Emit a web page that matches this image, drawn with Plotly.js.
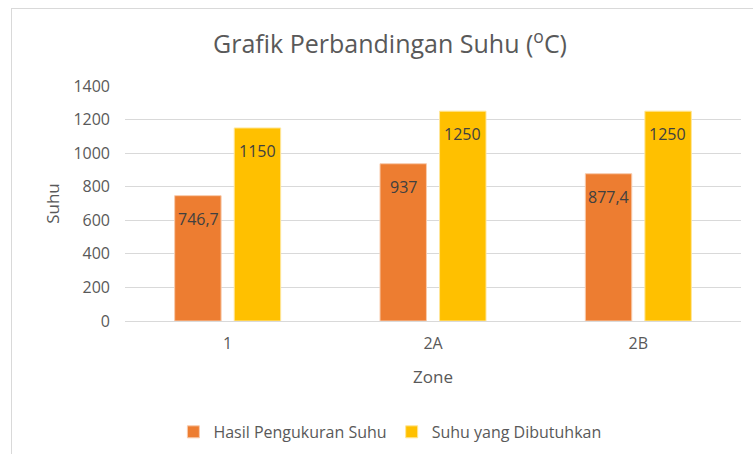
<!DOCTYPE html>
<html>
<head>
<meta charset="utf-8">
<script src="https://cdn.plot.ly/plotly-3.0.1.min.js"></script>
<style>
  html, body { margin: 0; padding: 0; background: #fff; overflow: hidden; }
  #chart { width: 753px; height: 454px; }
  #frame { position: absolute; left: 11px; top: 8px; width: 800px; height: 500px;
           border: 1px solid #d9d9d9; pointer-events: none; }
</style>
</head>
<body>
<div id="chart"></div>
<div id="frame"></div>
<script>
const categories = ['1', '2A', '2B'];
const hasilPengukuran = [746.7, 937, 877.4];
const suhuDibutuhkan = [1150, 1250, 1250];
const seriesNames = ['Hasil Pengukuran Suhu', 'Suhu yang Dibutuhkan'];
const yTicks = [0, 200, 400, 600, 800, 1000, 1200, 1400];

const fmt = v => String(v).replace('.', ',');
const font = '"Open Sans", "Liberation Sans", sans-serif';
const grey = '#595959';

const traces = [
  { type: 'bar', name: seriesNames[0], x: categories, y: hasilPengukuran,
    marker: { color: '#ED7D31', line: { color: '#F8CBAD', width: 1 } }, hoverinfo: 'none' },
  { type: 'bar', name: seriesNames[1], x: categories, y: suhuDibutuhkan,
    marker: { color: '#FFC000', line: { color: '#FFE699', width: 1 } }, hoverinfo: 'none' }
];

const annotations = [];
[hasilPengukuran, suhuDibutuhkan].forEach((vals, si) => {
  vals.forEach((v, i) => {
    annotations.push({
      x: i, y: v, xref: 'x', yref: 'y', text: fmt(v), showarrow: false,
      xshift: si === 0 ? -29.5 : 29.5, yshift: -23, yanchor: 'middle',
      font: { family: font, size: 16, color: '#404040' }
    });
  });
});

const layout = {
  width: 753, height: 454,
  margin: { l: 125, r: 12, t: 86, b: 133, autoexpand: false },
  paper_bgcolor: '#fff', plot_bgcolor: '#fff',
  font: { family: font, color: grey },
  title: { text: 'Grafik Perbandingan Suhu (<sup>o</sup>C)', x: 0.518, xanchor: 'center',
           y: 0.902, yanchor: 'middle', yref: 'container',
           font: { family: font, size: 25, color: grey } },
  barmode: 'group', bargap: 0.42, bargroupgap: 0.22,
  xaxis: { type: 'category', showgrid: false, showline: true, linecolor: '#d9d9d9', linewidth: 1,
           ticks: '', tickfont: { family: font, size: 16, color: grey }, ticklabelstandoff: 8,
           title: { text: 'Zone', font: { family: font, size: 17, color: grey }, standoff: 17 } },
  yaxis: { range: [0, 1400], tickvals: yTicks, ticktext: yTicks.map(String),
           showgrid: true, gridcolor: '#d9d9d9', zeroline: false, showline: false,
           ticks: '', tickfont: { family: font, size: 16, color: grey }, ticklabelstandoff: 14,
           title: { text: 'Suhu', font: { family: font, size: 17, color: grey }, standoff: 9 } },
  legend: { orientation: 'h', x: 0.43, xanchor: 'center', y: -0.472, yanchor: 'middle',
            font: { family: font, size: 16, color: grey }, itemwidth: 30 },
  annotations: annotations,
  showlegend: true
};

Plotly.newPlot('chart', traces, layout, { staticPlot: true, displayModeBar: false });
</script>
</body>
</html>
